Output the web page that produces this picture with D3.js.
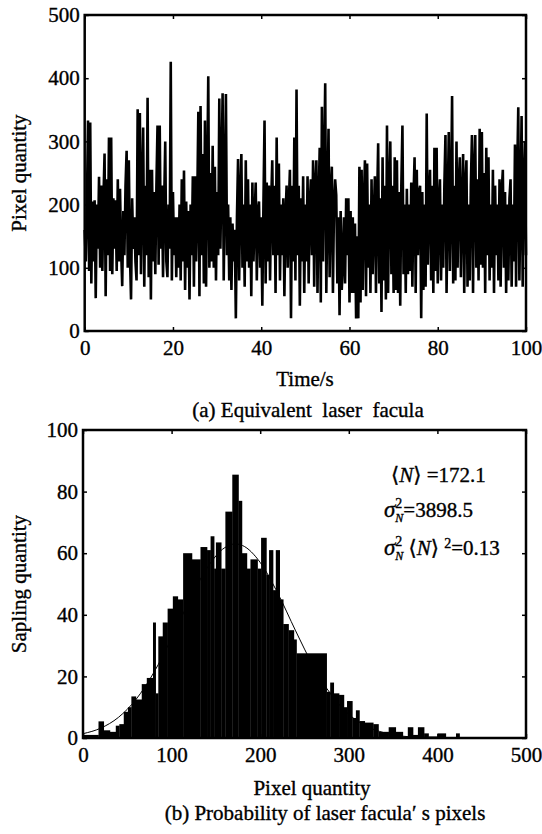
<!DOCTYPE html>
<html><head><meta charset="utf-8">
<script src="https://cdn.jsdelivr.net/npm/d3@7"></script>
<style>
body{margin:0;background:#fff}
svg text{font-family:"Liberation Serif","Times New Roman","DejaVu Serif",serif !important;fill:#000;stroke:#000;stroke-width:0.35px}
</style>
</head><body>
<svg id="c" width="542" height="834"></svg>
<script>
// ---------- Data: panel (a) time series ----------
const timeStep = 0.25; // seconds between samples
const pixelSeries = [
160,110,200,333, 95,330,75,205, 110,207,52,200, 130,244,100,230, 95,210,281,55,
240,120,306,95, 306,90,210,130, 207,95,240,110, 225,130,71,190, 120,230,285,100,
270,120,50,210, 130,180,110,80, 351,120,345,90, 220,322,70,230, 120,369,85,255,
50,255,110,220, 90,230,325,105, 325,130,230,85, 200,300,110,85, 200,130,426,80,
220,120,180,85, 180,100,200,80, 240,110,254,65, 205,100,190,50, 200,120,245,70,
245,110,200,347, 55,356,120,280, 75,333,70,230, 403,100,250,110, 293,100,260,80,
220,120,368,130, 250,376,80,220, 375,120,200,80, 180,65,170,110, 160,20,180,272,
80,210,280,100, 200,70,270,110, 240,100,200,55, 235,110,180,235, 80,190,205,100,
180,40,200,333, 75,235,110,230, 80,200,270,120, 230,60,306,120, 265,80,200,120,
210,55,180,230, 100,200,255,20, 230,110,306,80, 382,120,230,40, 210,110,245,60,
200,110,245,75, 200,240,120,270, 70,230,270,60, 200,290,45,355, 110,260,392,60,
200,320,85,220, 260,60,200,240, 215,75,180,25, 190,65,110,180, 75,210,120,210,
45,190,60,180, 60,170,20,150, 20,260,45,255, 65,200,270,55, 265,100,200,60,
240,90,180,245, 60,200,297,75, 210,30,275,80, 230,50,325,60, 220,300,90,230,
60,275,65,270, 60,220,40,230, 325,90,200,60, 225,90,200,95, 235,70,210,275,
60,255,120,220, 230,20,220,65, 200,70,344,105, 210,255,80,230, 60,290,95,290,
75,200,240,80, 200,100,230,310, 60,200,315,95, 200,372,75,230, 80,300,100,230,
275,85,200,280, 60,230,270,70, 200,80,230,310, 60,250,310,100, 240,80,320,105,
315,100,250,60, 290,120,275,80, 200,100,255,60, 230,120,200,80, 240,70,220,255,
100,220,60,200, 80,210,240,70, 200,110,295,70, 250,354,80,200, 340,70,230,300,
120
];
const timeTicks = [0,20,40,60,80,100];
const pixelTicks = [0,100,200,300,400,500];

// ---------- Data: panel (b) histogram ----------
const binEdges = [0,17.5,23.4,30.4,37,41,46,50.7,54.6,59.7,66.3,72,79,82,85,90,95.5,101.4,107,113,
123,132.6,140,144,148,150,156,160.7,168.5,175.5,179.4,185,189,197,201,207,210,214.5,217.6,222,
226,232,238,241,275,279,283,289,294.5,298,304,308,312,318,327.6,333.5,345,353,361,366.6,
372.5,378,385,390,400,409.5,421,425];
const binCounts = [1,5.4,2.5,2,4,4.5,8.5,10,13.5,12.5,17.5,19.5,37.5,14.5,33,37.5,42,46,45,60,
58,62,61,65.5,55,63.5,55,73.5,85.5,77,60,55,58,55,65,53,61,48,61,45,
37,35,32,27.5,15,18,14.5,14,10,12,6.5,9,5.5,5,4.5,2,3.5,2,0.5,3.5,
1,3.5,1.5,0.5,1.5,0,1.5];
const fitPixel = [0,20,40,60,80,100,120,140,160,172,180,200,220,240,260,280,300,320,340,360,380,400,450,500];
const fitCount = [1.4,3.2,6.7,12.6,21.3,32.4,44.5,55.2,61.8,63,62.5,57,46.9,34.8,23.3,14.1,7.7,3.8,1.7,0.6,0.25,0.1,0,0];
const histXTicks = [0,100,200,300,400,500];
const countTicks = [0,20,40,60,80,100];

// ---------- Drawing ----------
const FONT = '"Liberation Serif","Times New Roman","DejaVu Serif",serif';
const svg = d3.select("#c");
const FS = 21;

function frameAxes(g, x, y, xt, yt) {
  const [x0,x1] = x.range(), [y0,y1] = y.range();
  g.append("g").attr("transform",`translate(0,${y0})`)
    .call(d3.axisBottom(x).tickValues(xt).tickSize(-4).tickPadding(9).tickFormat(d3.format("d")))
    .call(a=>{a.select(".domain").remove(); a.attr("font-family",FONT).attr("font-size",FS);});
  g.append("g").attr("transform",`translate(0,${y1})`)
    .call(d3.axisTop(x).tickValues(xt).tickSize(-4).tickFormat(""))
    .call(a=>a.select(".domain").remove());
  g.append("g").attr("transform",`translate(${x0},0)`)
    .call(d3.axisLeft(y).tickValues(yt).tickSize(-4).tickPadding(5).tickFormat(d3.format("d")))
    .call(a=>{a.select(".domain").remove(); a.attr("font-family",FONT).attr("font-size",FS);});
  g.append("g").attr("transform",`translate(${x1},0)`)
    .call(d3.axisRight(y).tickValues(yt).tickSize(-4).tickFormat(""))
    .call(a=>a.select(".domain").remove());
  g.selectAll(".tick line").attr("stroke","#000").attr("stroke-width",1.5);
  g.append("rect").attr("x",x0).attr("y",y1).attr("width",x1-x0).attr("height",y0-y1)
    .attr("fill","none").attr("stroke","#000").attr("stroke-width",2.5);
}

function label(x, y, txt, rot) {
  const t = svg.append("text").attr("font-family",FONT).attr("font-size",FS).attr("text-anchor","middle")
    .style("white-space","pre").text(txt);
  if (rot) t.attr("transform",`translate(${x},${y}) rotate(-90)`).attr("dy","0.35em");
  else t.attr("x",x).attr("y",y);
}

// Panel (a)
const xa = d3.scaleLinear().domain([0,100]).range([84.7,526]);
const ya = d3.scaleLinear().domain([0,500]).range([331,15]);
const ga = svg.append("g");
ga.append("path").datum(pixelSeries)
  .attr("fill","none").attr("stroke","#000").attr("stroke-width",2.6).attr("stroke-linejoin","bevel")
  .attr("d", d3.line().x((d,i)=>xa(i*timeStep)).y(d=>ya(d)));
frameAxes(ga, xa, ya, timeTicks, pixelTicks);
label(19, 173, "Pixel quantity", true);
label(305, 386, "Time/s");
label(308, 417, "(a) Equivalent  laser  facula");

// Panel (b)
const xb = d3.scaleLinear().domain([0,500]).range([83,526]);
const yb = d3.scaleLinear().domain([0,100]).range([738,430]);
const gb = svg.append("g");
const bins = binCounts.map((c,i)=>({x0:binEdges[i], x1:binEdges[i+1], c}));
gb.selectAll("rect.bar").data(bins).join("rect").attr("class","bar")
  .attr("x",d=>xb(d.x0)).attr("width",d=>xb(d.x1)-xb(d.x0)+0.3)
  .attr("y",d=>yb(d.c)).attr("height",d=>yb(0)-yb(d.c)).attr("fill","#000");
gb.append("path").datum(fitPixel.map((p,i)=>[p,fitCount[i]]))
  .attr("fill","none").attr("stroke","#000").attr("stroke-width",1)
  .attr("d", d3.line().curve(d3.curveMonotoneX).x(d=>xb(d[0])).y(d=>yb(d[1])));
frameAxes(gb, xb, yb, histXTicks, countTicks);
label(19, 584, "Sapling quantity", true);
label(312, 795, "Pixel quantity");
label(325, 820, "(b) Probability of laser facula\u2032 s pixels");

// Annotations
function rich(x, y, pieces) {
  let cx = x;
  pieces.forEach(p => {
    const t = svg.append("text").attr("x", cx).attr("y", y + (p.dy||0))
      .attr("font-family",FONT).attr("font-size", p.size||FS).style("white-space","pre")
      .style("font-style", p.it ? "italic" : "normal").text(p.t);
    if (!p.stay) cx += t.node().getComputedTextLength();
  });
}
rich(391, 482, [{t:"\u27E8"},{t:"N",it:1},{t:"\u27E9 =172.1"}]);
rich(384, 517, [{t:"\u03C3",it:1,size:23},{t:"2",size:14,dy:-9,stay:1},{t:"N",it:1,size:12,dy:5},{t:"=3898.5"}]);
rich(384, 555, [{t:"\u03C3",it:1,size:23},{t:"2",size:14,dy:-9,stay:1},{t:"N",it:1,size:12,dy:5},
  {t:" \u27E8"},{t:"N",it:1},{t:"\u27E9 "},{t:"2",size:14,dy:-7},{t:"=0.13"}]);
</script>
</body></html>
